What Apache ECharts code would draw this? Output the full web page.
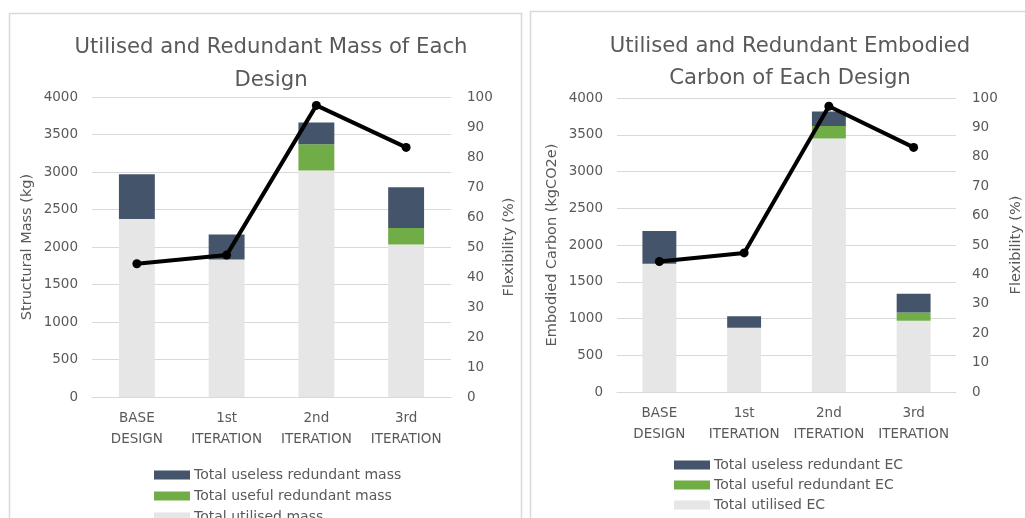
<!DOCTYPE html>
<html>
<head>
<meta charset="utf-8">
<script src="https://cdn.jsdelivr.net/npm/echarts@6/dist/echarts.min.js"></script>
<style>
html,body{margin:0;padding:0;background:#fff;}
#chart{width:1025px;height:518px;}
</style>
</head>
<body>
<div id="chart"></div>
<script>
// ---- data ----
const categories = ['BASE\nDESIGN', '1st\nITERATION', '2nd\nITERATION', '3rd\nITERATION'];

// Left chart: structural mass (kg)
const massUtilised = [2375, 1835, 3020, 2035];
const massUseful = [0, 0, 350, 218];
const massUseless = [595, 333, 290, 543];

// Right chart: embodied carbon (kgCO2e)
const ecUtilised = [1745, 873, 3450, 968];
const ecUseful = [0, 0, 169, 115];
const ecUseless = [446, 159, 199, 253];

// Flexibility (%) – same line on both charts
const flexibility = [44.4, 47.3, 97.2, 83.2];

const leftTickLabels = { min: 0, max: 4000, interval: 500 };
const rightTickLabels = { min: 0, max: 100, interval: 10 };

const massNames = ['Total utilised mass', 'Total useful redundant mass', 'Total useless redundant mass'];
const ecNames = ['Total utilised EC', 'Total useful redundant EC', 'Total useless redundant EC'];

// ---- styles ----
const FONT = 'DejaVu Sans';
const TXT = '#595959';
const DARK = '#44546A';
const GREEN = '#70AD47';
const LIGHT = '#E7E6E6';
const GRID = '#D9D9D9';
const TICK_FS = 13.5;

const chart = echarts.init(document.getElementById('chart'), null, { renderer: 'canvas' });

function xAxis(gridIndex) {
  return {
    type: 'category', gridIndex, data: categories,
    axisLine: { lineStyle: { color: GRID, width: 1 } },
    axisTick: { show: false },
    axisLabel: { color: TXT, fontFamily: FONT, fontSize: TICK_FS, lineHeight: 21, margin: 11, interval: 0 }
  };
}
function yLeft(gridIndex, name, gap) {
  return {
    type: 'value', gridIndex, name, nameLocation: 'middle', nameGap: gap,
    nameTextStyle: { color: TXT, fontFamily: FONT, fontSize: 14.5 },
    min: leftTickLabels.min, max: leftTickLabels.max, interval: leftTickLabels.interval,
    axisLine: { show: false }, axisTick: { show: false },
    axisLabel: { color: TXT, fontFamily: FONT, fontSize: TICK_FS, margin: 14, formatter: v => String(v) },
    splitLine: { lineStyle: { color: GRID, width: 1 } }
  };
}
function yRight(gridIndex, gap) {
  return {
    type: 'value', gridIndex, position: 'right', name: 'Flexibility (%)', nameLocation: 'middle', nameGap: gap,
    nameTextStyle: { color: TXT, fontFamily: FONT, fontSize: 14.5 },
    min: rightTickLabels.min, max: rightTickLabels.max, interval: rightTickLabels.interval,
    axisLine: { show: false }, axisTick: { show: false },
    axisLabel: { color: TXT, fontFamily: FONT, fontSize: TICK_FS, margin: 16, formatter: v => String(v) },
    splitLine: { show: false }
  };
}
function bars(names, vals, xi, yi) {
  const colors = [LIGHT, GREEN, DARK];
  return names.map((n, i) => ({
    name: n, type: 'bar', stack: 's' + xi, xAxisIndex: xi, yAxisIndex: yi,
    barWidth: '40%', data: vals[i], itemStyle: { color: colors[i] }, z: 2
  }));
}
function flexLine(xi, yi) {
  return {
    name: 'Flexibility', type: 'line', xAxisIndex: xi, yAxisIndex: yi, data: flexibility,
    symbol: 'circle', symbolSize: 9, lineStyle: { color: '#000', width: 4 },
    itemStyle: { color: '#000' }, z: 5
  };
}
function legendItem(name, left, top) {
  return {
    orient: 'vertical', left, top, padding: 0, itemWidth: 36, itemHeight: 9, icon: 'rect',
    data: [name], selectedMode: false,
    textStyle: { color: TXT, fontFamily: FONT, fontSize: 14, padding: [0, 0, 0, -1] }
  };
}

const option = {
  backgroundColor: '#fff',
  animation: false,
  textStyle: { fontFamily: FONT },
  graphic: [
    { type: 'rect', shape: { x: 9.5, y: 13.5, width: 512, height: 520 }, style: { fill: 'none', stroke: GRID, lineWidth: 1.5 }, silent: true },
    { type: 'rect', shape: { x: 530.5, y: 11.5, width: 520, height: 520 }, style: { fill: 'none', stroke: GRID, lineWidth: 1.5 }, silent: true }
  ],
  title: [
    { text: 'Utilised and Redundant Mass of Each\nDesign', left: 266, top: 26, textAlign: 'center',
      textStyle: { color: TXT, fontFamily: FONT, fontSize: 21.2, fontWeight: 'normal', lineHeight: 33 } },
    { text: 'Utilised and Redundant Embodied\nCarbon of Each Design', left: 785, top: 25, textAlign: 'center',
      textStyle: { color: TXT, fontFamily: FONT, fontSize: 21.2, fontWeight: 'normal', lineHeight: 32 } }
  ],
  legend: [
    legendItem(massNames[2], 154, 468),
    legendItem(massNames[1], 154, 489),
    legendItem(massNames[0], 154, 510),
    legendItem(ecNames[2], 674, 458),
    legendItem(ecNames[1], 674, 478),
    legendItem(ecNames[0], 674, 498)
  ],
  grid: [
    { left: 92, right: 574, top: 97, bottom: 121 },
    { left: 617, right: 69, top: 98, bottom: 126 }
  ],
  xAxis: [xAxis(0), xAxis(1)],
  yAxis: [
    yLeft(0, 'Structural Mass (kg)', 57), yRight(0, 51),
    yLeft(1, 'Embodied Carbon (kgCO2e)', 57), yRight(1, 53)
  ],
  series: [
    ...bars(massNames, [massUtilised, massUseful, massUseless], 0, 0),
    flexLine(0, 1),
    ...bars(ecNames, [ecUtilised, ecUseful, ecUseless], 1, 2),
    flexLine(1, 3)
  ]
};
chart.setOption(option);
</script>
</body>
</html>
